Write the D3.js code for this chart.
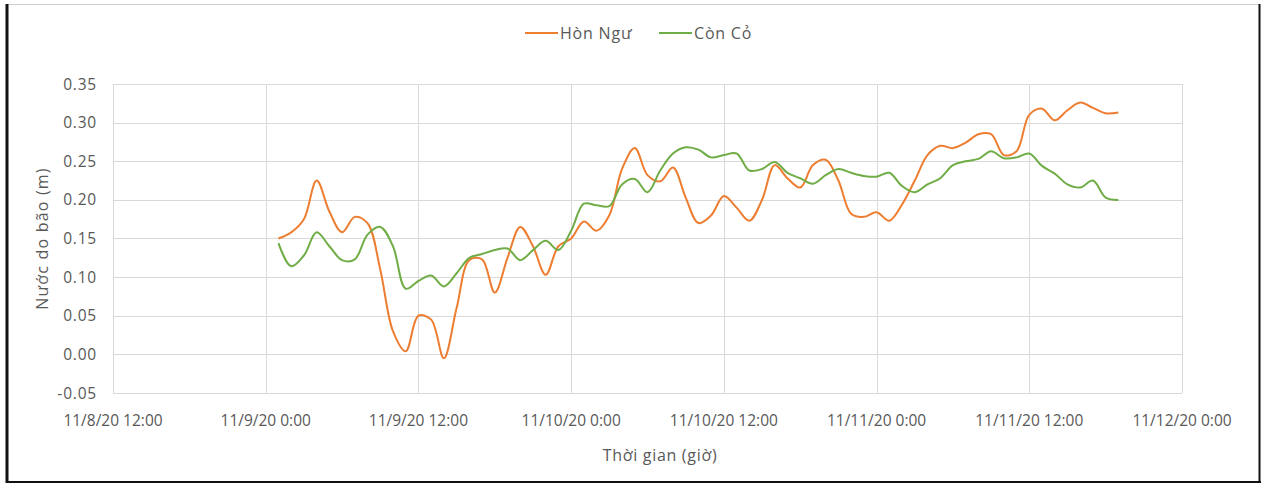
<!DOCTYPE html>
<html>
<head>
<meta charset="utf-8">
<script src="https://cdn.jsdelivr.net/npm/d3@7"></script>
<style>
  body { margin: 0; background: #fff; }
  text { font-family: "Open Sans", "Noto Sans", sans-serif; fill: #595959; }
</style>
</head>
<body>
<script>
// hourly series, 11/9/20 1:00 -> 11/11/20 19:00
const startTime = new Date(2020, 10, 9, 1);
const honNgu = [
  0.150, 0.158, 0.175, 0.225, 0.185, 0.158, 0.178, 0.170, 0.110, 0.030,
  0.004, 0.050, 0.045, -0.005, 0.060, 0.122, 0.123, 0.080, 0.125, 0.165,
  0.140, 0.103, 0.140, 0.150, 0.172, 0.160, 0.180, 0.240, 0.267, 0.232,
  0.224, 0.242, 0.203, 0.170, 0.180, 0.205, 0.190, 0.173, 0.200, 0.245,
  0.228, 0.216, 0.245, 0.252, 0.225, 0.182, 0.178, 0.184, 0.173, 0.194,
  0.225, 0.258, 0.270, 0.267, 0.274, 0.285, 0.285, 0.258, 0.263, 0.310,
  0.318, 0.303, 0.316, 0.326, 0.319, 0.312, 0.313
];
const conCo = [
  0.144, 0.114, 0.128, 0.158, 0.140, 0.122, 0.123, 0.155, 0.165, 0.140,
  0.085, 0.095, 0.102, 0.088, 0.105, 0.125, 0.130, 0.135, 0.137, 0.122,
  0.135, 0.147, 0.135, 0.160, 0.195, 0.193, 0.192, 0.220, 0.227, 0.210,
  0.238, 0.260, 0.268, 0.265, 0.255, 0.258, 0.260, 0.238, 0.240, 0.249,
  0.235, 0.228, 0.221, 0.232, 0.240, 0.235, 0.231, 0.230, 0.235, 0.218,
  0.210, 0.220, 0.228, 0.245, 0.250, 0.253, 0.263, 0.254, 0.255, 0.260,
  0.244, 0.234, 0.220, 0.216, 0.225, 0.203, 0.200
];
const seriesNames = ['Hòn Ngư', 'Còn Cỏ'];
const seriesColors = ['#ED7D31', '#70AD47'];
const xTickLabels = ['11/8/20 12:00', '11/9/20 0:00', '11/9/20 12:00', '11/10/20 0:00',
  '11/10/20 12:00', '11/11/20 0:00', '11/11/20 12:00', '11/12/20 0:00'];
const xTickTimes = [
  new Date(2020, 10, 8, 12), new Date(2020, 10, 9, 0), new Date(2020, 10, 9, 12),
  new Date(2020, 10, 10, 0), new Date(2020, 10, 10, 12), new Date(2020, 10, 11, 0),
  new Date(2020, 10, 11, 12), new Date(2020, 10, 12, 0)
];
const yTicks = [-0.05, 0, 0.05, 0.10, 0.15, 0.20, 0.25, 0.30, 0.35];

var W = 1263, H = 484;
var plot = { left: 113, right: 1182, top: 84, bottom: 393 };

var svg = d3.select('body').append('svg')
  .attr('width', W)
  .attr('height', H);

// outer frame
svg.append('line').attr('x1', 6).attr('x2', 1259).attr('y1', 4.5).attr('y2', 4.5)
  .attr('stroke', '#d0d0d0').attr('stroke-width', 1);
svg.append('line').attr('x1', 7).attr('x2', 7).attr('y1', 4).attr('y2', 483)
  .attr('stroke', '#111').attr('stroke-width', 3);
svg.append('line').attr('x1', 1259.5).attr('x2', 1259.5).attr('y1', 4).attr('y2', 483)
  .attr('stroke', '#111').attr('stroke-width', 2);
svg.append('line').attr('x1', 6).attr('x2', 1261).attr('y1', 482).attr('y2', 482)
  .attr('stroke', '#111').attr('stroke-width', 2);

var x = d3.scaleTime()
  .domain([xTickTimes[0], xTickTimes[xTickTimes.length - 1]])
  .range([plot.left, plot.right]);
var y = d3.scaleLinear()
  .domain([-0.05, 0.35])
  .range([plot.bottom, plot.top]);

// gridlines
var grid = svg.append('g').attr('stroke', '#d9d9d9').attr('stroke-width', 1);
grid.selectAll('.hg').data(yTicks).enter().append('line')
  .attr('x1', plot.left).attr('x2', plot.right)
  .attr('y1', function(d) { return Math.round(y(d)) + 0.5; })
  .attr('y2', function(d) { return Math.round(y(d)) + 0.5; });
grid.selectAll('.vg').data(xTickTimes).enter().append('line')
  .attr('y1', plot.top).attr('y2', plot.bottom)
  .attr('x1', function(d) { return Math.round(x(d)) + 0.5; })
  .attr('x2', function(d) { return Math.round(x(d)) + 0.5; });

// y tick labels
svg.selectAll('.ylab').data(yTicks).enter().append('text')
  .attr('x', 97)
  .attr('y', function(d) { return y(d) + 5.5; })
  .attr('text-anchor', 'end')
  .style('font-size', '15.5px')
  .style('letter-spacing', '0.8px')
  .text(function(d) { return d3.format('.2f')(d).replace('−', '-'); });

// x tick labels
svg.selectAll('.xlab').data(xTickTimes).enter().append('text')
  .attr('x', function(d) { return x(d); })
  .attr('y', 426)
  .attr('text-anchor', 'middle')
  .style('font-size', '15.5px')
  .text(function(d, i) { return xTickLabels[i]; });

// axis titles
svg.append('text')
  .attr('transform', 'translate(48,' + (plot.top + plot.bottom) / 2 + ') rotate(-90)')
  .attr('text-anchor', 'middle')
  .style('font-size', '16px')
  .style('letter-spacing', '1.2px')
  .text('Nước do bão (m)');
svg.append('text')
  .attr('x', 660).attr('y', 461)
  .attr('text-anchor', 'middle')
  .style('font-size', '16px')
  .style('letter-spacing', '0.7px')
  .text('Thời gian (giờ)');

// lines
var data = [honNgu, conCo];
var line = d3.line()
  .x(function(d, i) { return x(d3.timeHour.offset(startTime, i)); })
  .y(function(d) { return y(d); })
  .curve(d3.curveCatmullRom.alpha(0.5));

svg.selectAll('.series').data(data).enter().append('path')
  .attr('fill', 'none')
  .attr('stroke', function(d, i) { return seriesColors[i]; })
  .attr('stroke-width', 2)
  .attr('stroke-linejoin', 'round')
  .attr('d', line);

// legend
var legendX = [525, 659];
var legend = svg.selectAll('.legend').data(seriesNames).enter().append('g')
  .attr('transform', function(d, i) { return 'translate(' + legendX[i] + ',33)'; });
legend.append('line')
  .attr('x1', 0).attr('x2', 33).attr('y1', 0).attr('y2', 0)
  .attr('stroke', function(d, i) { return seriesColors[i]; })
  .attr('stroke-width', 2);
legend.append('text')
  .attr('x', 35).attr('y', 5.5)
  .style('font-size', '16px')
  .style('letter-spacing', '0.8px')
  .text(function(d) { return d; });
</script>
</body>
</html>
